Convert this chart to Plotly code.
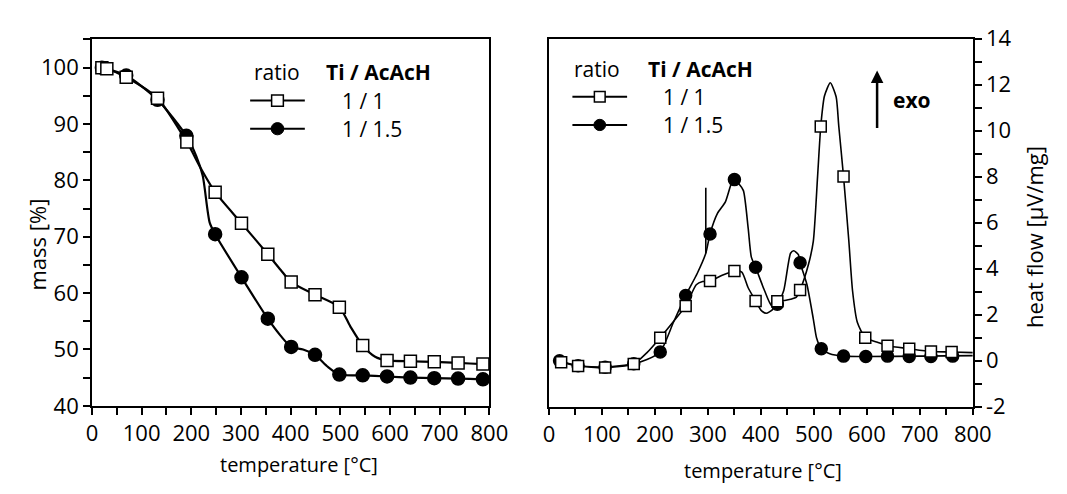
import plotly.graph_objects as go

W, H = 1067, 494
FONT = "Open Sans"

# ---------------- data: left panel (TG, mass %) ----------------
tg_sq_T = [20, 30, 69, 132, 191, 248, 301, 354, 401, 449, 498, 545, 594, 641, 689, 737, 787]
tg_sq_v = [100, 99.8, 98.3, 94.55, 86.8, 77.9, 72.4, 66.9, 61.95, 59.7, 57.5, 50.7, 48.05, 47.9, 47.8, 47.6, 47.4]
tg_ci_T = [20, 69, 132, 190, 248, 301, 354, 401, 449, 498, 545, 594, 641, 689, 737, 787]
tg_ci_v = [100, 98.6, 94.3, 87.9, 70.45, 62.8, 55.45, 50.45, 49.05, 45.55, 45.4, 45.2, 45.0, 44.9, 44.83, 44.7]

tg_sq_line_T = [20, 30, 69, 132, 191, 220, 248, 301, 354, 380, 401, 449, 498, 520, 545, 570, 594, 641, 689, 737, 787, 800]
tg_sq_line_v = [100, 99.8, 98.3, 94.55, 86.8, 82.0, 77.9, 72.4, 66.9, 64.1, 61.95, 59.7, 57.5, 54.1, 50.7, 48.7, 48.05, 47.9, 47.8, 47.6, 47.4, 47.35]
tg_ci_line_T = [20, 69, 132, 190, 210, 223, 237, 248, 301, 354, 380, 401, 425, 449, 475, 498, 545, 594, 641, 689, 737, 787, 800]
tg_ci_line_v = [100, 98.6, 94.3, 87.9, 84.3, 80.8, 72.5, 70.45, 62.8, 55.45, 52.4, 50.45, 50.0, 49.05, 46.9, 45.55, 45.4, 45.2, 45.0, 44.9, 44.83, 44.7, 44.68]

# ---------------- data: right panel (DTA, heat flow) ----------------
dta_sq_T = [23, 55, 106, 160, 210, 258, 304, 350, 390, 431, 474, 513, 556, 597, 639, 680, 721, 760]
dta_sq_v = [-0.07, -0.23, -0.30, -0.14, 1.0, 2.38, 3.46, 3.9, 2.6, 2.58, 3.07, 10.18, 8.0, 1.0, 0.65, 0.52, 0.4, 0.38]
dta_ci_T = [20, 55, 106, 160, 210, 258, 304, 350, 390, 431, 474, 514, 556, 598, 639, 680, 721, 762]
dta_ci_v = [0.0, -0.22, -0.28, -0.13, 0.38, 2.83, 5.51, 7.87, 4.06, 2.45, 4.26, 0.52, 0.2, 0.18, 0.2, 0.18, 0.18, 0.2]

dta_sq_line_T = [20, 55, 105, 160, 185, 210, 235, 258, 278, 290, 304, 327, 350, 364, 376, 390, 400, 410, 422,
                 431, 445, 456, 467, 474, 490, 499, 507, 513, 520, 531, 542, 547, 556, 566, 573, 582, 597,
                 620, 639, 680, 721, 760, 800]
dta_sq_line_v = [-0.05, -0.23, -0.3, -0.14, 0.35, 1.0, 1.7, 2.38, 3.3, 3.44, 3.46, 3.71, 3.9, 3.85, 3.17, 2.6, 2.2, 2.06, 2.22,
                 2.58, 2.62, 2.67, 2.76, 3.07, 4.2, 5.2, 8.0, 10.18, 11.5, 12.08, 11.47, 10.2, 8.0, 5.2, 3.04, 1.67, 1.0,
                 0.8, 0.65, 0.52, 0.4, 0.38, 0.35]
dta_ci_line_T = [20, 55, 105, 160, 185, 210, 235, 258, 280, 296, 304, 318, 333, 345, 350, 358, 367, 376, 382, 390,
                 407, 420, 431, 443, 456, 462, 471, 474, 487, 499, 505, 514, 530, 555, 600, 700, 800]
dta_ci_line_v = [0.0, -0.22, -0.28, -0.13, 0.05, 0.38, 1.67, 2.83, 3.8, 4.67, 5.51, 6.4, 6.9, 7.75, 7.87, 7.7, 7.39, 5.76, 4.5, 4.06,
                 3.04, 2.4, 2.45, 3.04, 4.67, 4.78, 4.6, 4.26, 3.3, 1.81, 1.0, 0.52, 0.3, 0.2, 0.18, 0.2, 0.22]
dta_spike_T = [296, 296]
dta_spike_v = [4.67, 7.52]

x_ticks = [0, 100, 200, 300, 400, 500, 600, 700, 800]
tg_ticks = [40, 50, 60, 70, 80, 90, 100]
dta_ticks = [-2, 0, 2, 4, 6, 8, 10, 12, 14]
dta_ticktext = ["-2", "0", "2", "4", "6", "8", "10", "12", "14"]

# ---------------- figure ----------------
fig = go.Figure()

def line_trace(x, y, xa, ya, width, smoothing=0.8):
    return go.Scatter(x=x, y=y, xaxis=xa, yaxis=ya, mode="lines",
                      line=dict(color="black", width=width, shape="spline", smoothing=smoothing),
                      showlegend=False, hoverinfo="skip")

def marker_trace(x, y, xa, ya, symbol, size, fill):
    return go.Scatter(x=x, y=y, xaxis=xa, yaxis=ya, mode="markers",
                      marker=dict(symbol=symbol, size=size, color=fill,
                                  line=dict(color="black", width=1.5)),
                      showlegend=False, cliponaxis=False)

# left panel
fig.add_trace(line_trace(tg_ci_line_T, tg_ci_line_v, "x", "y", 2.2, 0.7))
fig.add_trace(line_trace(tg_sq_line_T, tg_sq_line_v, "x", "y", 2.2, 0.7))
fig.add_trace(marker_trace(tg_ci_T, tg_ci_v, "x", "y", "circle", 13, "black"))
fig.add_trace(marker_trace(tg_sq_T, tg_sq_v, "x", "y", "square", 12, "white"))

# right panel
fig.add_trace(line_trace(dta_ci_line_T, dta_ci_line_v, "x2", "y2", 1.6, 0.6))
fig.add_trace(go.Scatter(x=dta_spike_T, y=dta_spike_v, xaxis="x2", yaxis="y2", mode="lines",
                         line=dict(color="black", width=1.6), showlegend=False, hoverinfo="skip"))
fig.add_trace(line_trace(dta_sq_line_T, dta_sq_line_v, "x2", "y2", 1.6, 0.6))
fig.add_trace(marker_trace(dta_ci_T, dta_ci_v, "x2", "y2", "circle", 12, "black"))
fig.add_trace(marker_trace(dta_sq_T, dta_sq_v, "x2", "y2", "square", 11, "white"))

def px(x):
    return x / W

def py(y):
    return 1 - y / H

tickfont = dict(family=FONT, size=22, color="black")
common_x = dict(range=[0, 800], tickmode="array", tickvals=x_ticks, ticks="outside", ticklen=7,
                tickwidth=1.5, tickcolor="black", showline=True, linecolor="black", linewidth=1.5,
                mirror=True, showgrid=False, zeroline=False, tickfont=tickfont,
                minor=dict(dtick=50, tick0=0, ticks="outside", ticklen=7, tickwidth=1.5, tickcolor="black"))

fig.update_layout(
    width=W, height=H, margin=dict(l=0, r=0, t=0, b=0),
    paper_bgcolor="white", plot_bgcolor="white",
    font=dict(family=FONT, color="black"),
    xaxis=dict(domain=[px(88), px(495)], anchor="y", **common_x),
    yaxis=dict(domain=[py(415), py(25)], anchor="x", range=[40, 105], tickmode="array", tickvals=tg_ticks,
               ticks="outside", ticklen=7, tickwidth=1.5, tickcolor="black", showline=True,
               linecolor="black", linewidth=1.5, mirror=True, showgrid=False, zeroline=False,
               tickfont=tickfont,
               minor=dict(dtick=5, tick0=0, ticks="outside", ticklen=7, tickwidth=1.5, tickcolor="black")),
    xaxis2=dict(domain=[px(556), px(990)], anchor="y2", **common_x),
    yaxis2=dict(domain=[py(416), py(24)], anchor="x2", side="right", range=[-2, 14], tickmode="array",
                tickvals=dta_ticks, ticktext=dta_ticktext,
                ticks="outside", ticklen=7, tickwidth=1.5, tickcolor="black", showline=True,
                linecolor="black", linewidth=1.5, mirror=True, showgrid=False, zeroline=False,
                tickfont=tickfont,
                minor=dict(dtick=1, tick0=0, ticks="outside", ticklen=7, tickwidth=1.5, tickcolor="black")),
)

annos = []
def text(x, y, s, size=21, bold=False, xanchor="left", angle=0):
    annos.append(dict(x=px(x), y=py(y), xref="paper", yref="paper", text=(f"<b>{s}</b>" if bold else s),
                      showarrow=False, xanchor=xanchor, yanchor="middle", textangle=angle,
                      font=dict(family=FONT, size=size, color="black")))

# axis titles
text(300, 478, "temperature [°C]", size=20, xanchor="center")
text(775, 484, "temperature [°C]", size=20, xanchor="center")
text(32, 243, "mass [%]", size=22, xanchor="center", angle=-90)
text(1052, 235, "heat flow [µV/mg]", size=22, xanchor="center", angle=-90)

# legends
def legend(x0, xt, xr, y_head, dy):
    text(x0, y_head, "ratio")
    text(xt, y_head, "Ti / AcAcH", bold=True)
    text(xr, y_head + dy, "1 / 1")
    text(xr, y_head + 2 * dy, "1 / 1.5")

legend(252, 326, 342, 60, 30)
legend(580, 655, 671, 56, 30)

shapes = []
def leg_symbol(x0, x1, y, kind, size):
    shapes.append(dict(type="line", xref="paper", yref="paper", x0=px(x0), x1=px(x1), y0=py(y), y1=py(y),
                       line=dict(color="black", width=2)))
    xm = (x0 + x1) / 2
    h = size / 2
    if kind == "square":
        shapes.append(dict(type="rect", xref="paper", yref="paper", x0=px(xm - h), x1=px(xm + h),
                           y0=py(y + h), y1=py(y - h), fillcolor="white", line=dict(color="black", width=1.5)))
    else:
        shapes.append(dict(type="circle", xref="paper", yref="paper", x0=px(xm - h), x1=px(xm + h),
                           y0=py(y + h), y1=py(y - h), fillcolor="black", line=dict(color="black", width=1)))

leg_symbol(250, 306, 90, "square", 12)
leg_symbol(250, 306, 120, "circle", 13)
leg_symbol(580, 636, 86, "square", 11)
leg_symbol(580, 636, 116, "circle", 12)

# exo arrow
annos.append(dict(x=px(892), y=py(58), xref="paper", yref="paper", ax=0, ay=59, text="",
                  showarrow=True, arrowhead=2, arrowsize=1, arrowwidth=2.5, arrowcolor="black", standoff=0))
text(906, 89, "exo", bold=True)

fig.update_layout(annotations=annos, shapes=shapes)
fig.write_html("out.html")
